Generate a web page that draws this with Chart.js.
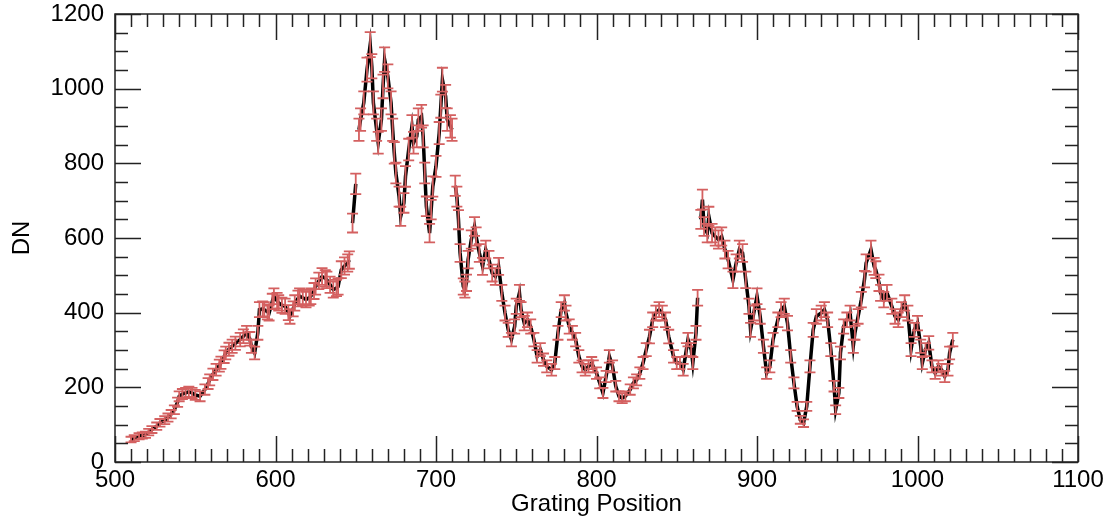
<!DOCTYPE html>
<html lang="en">
<head>
    <meta charset="UTF-8">
    <title>Grating Scan</title>
    <script src="https://cdn.jsdelivr.net/npm/chart.js@4.4.1/dist/chart.umd.min.js"></script>
    <style>
        body {
            margin: 0;
            background-color: white;
        }
    </style>
</head>
<body>
    <canvas id="scanChart" width="1109" height="522"></canvas>

    <script>
        // Grating position, DN and DN error (null = gap in the line)
        const gratingPos = [
            510, 512, 515, 517, 519, 521, 523, 526, 528, 531,
            533, 535, 537, 539, 540, 542, 544, 546, 548, 550,
            553, 556, 558, 559, 561, 563, 565, 566, 568, 569,
            571, 573, 575, 578, 580, 582, 584, 585, 587, 589,
            590, 592, 593, 595, 596, 598, 599, 601, 602, 604,
            606, 608, 609, 611, 612, 614, 615, 617, 619, 621,
            622, 624, 625, 627, 629, 631, 632, 634, 636, 638,
            639, 641, 643, 645, 646, 647, 648, 650, 651, 652,
            653, 655, 657, 659, 660, 661, 663, 664, 666, 667,
            668, 670, 672, 673, 674, 675, 677, 678, 680, 681,
            683, 685, 686, 688, 689, 691, 692, 693, 694, 696,
            697, 698, 700, 702, 703, 704, 706, 707, 709, 710,
            711, 712, 713, 714, 715, 717, 718, 719, 720, 722,
            724, 725, 727, 729, 731, 733, 735, 737, 739, 741,
            743, 745, 747, 749, 750, 752, 753, 755, 757, 759,
            761, 763, 765, 767, 769, 772, 774, 776, 778, 780,
            781, 783, 785, 787, 789, 791, 793, 795, 797, 798,
            800, 802, 804, 806, 808, 810, 812, 814, 816, 818,
            821, 823, 825, 827, 829, 831, 833, 835, 837, 839,
            841, 843, 845, 848, 850, 852, 854, 856, 857, 859,
            860, 862, 863, 864, 865, 866, 867, 869, 870, 872,
            874, 876, 878, 880, 882, 885, 887, 889, 891, 893,
            895, 896, 898, 900, 902, 904, 906, 908, 910, 913,
            915, 917, 919, 921, 923, 925, 927, 929, 931, 933,
            935, 937, 940, 942, 944, 946, 948, 949, 951, 952,
            954, 956, 958, 960, 961, 963, 965, 967, 968, 971,
            973, 974, 976, 977, 979, 981, 984, 986, 988, 990,
            992, 994, 996, 998, 1000, 1002, 1003, 1005, 1007, 1009,
            1011, 1013, 1015, 1017, 1019, 1020, 1022
        ];
        const dnValues = [
            60, 64, 69, 71, 73, 80, 87, 96, 105, 112,
            119, 128, 140, 160, 176, 182, 185, 188, 185, 180,
            176, 194, 210, 220, 235, 247, 258, 266, 282, 292,
            302, 310, 318, 328, 337, 346, 330, 310, 292, 346,
            408, 410, 408, 402, 399, 430, 444, 432, 426, 420,
            417, 400, 390, 410, 426, 438, 444, 440, 435, 440,
            444, 458, 470, 485, 497, 492, 488, 475, 462, 466,
            470, 515, 525, 533, 541, null, 640, 745, null, 890,
            917, 962, 1051, 1118, 1060, 962, 890, 855, 917, 1006,
            1078, 1033, 962, 890, 828, 774, 711, 658, 694, 765,
            837, 899, 855, 872, 917, 926, 872, 774, 685, 613,
            676, 738, 792, 881, 953, 1024, 979, 917, 899, 890,
            null, 740, 711, 649, 560, 470, 462, 480, 542, 596,
            631, 604, 560, 524, 569, 542, 506, 497, 524, 453,
            399, 354, 328, 363, 417, 453, 408, 372, 381, 363,
            328, 283, 301, 274, 256, 247, 265, 346, 408, 426,
            399, 363, 346, 328, 283, 256, 247, 256, 265, 256,
            238, 212, 185, 229, 283, 256, 203, 176, 171, 176,
            194, 212, 220, 238, 265, 301, 336, 381, 399, 408,
            399, 381, 336, 283, 265, 265, 247, 301, 328, 301,
            265, 346, 440, null, 650, 703, 631, 613, 658, 613,
            604, 596, 604, 569, 542, 488, 533, 569, 560, 488,
            417, 354, 399, 444, 390, 310, 238, 256, 328, 381,
            408, 417, 372, 283, 212, 149, 113, 104, 149, 256,
            354, 390, 399, 408, 381, 301, 203, 140, 185, 292,
            363, 381, 399, 310, 346, 390, 435, 490, 533, 569,
            524, 515, 480, 453, 435, 453, 417, 390, 381, 408,
            426, 399, 301, 354, 372, 310, 265, 301, 319, 256,
            238, 256, 247, 229, 247, 292, 328
        ];
        const dnErrors = [
            7.7, 8.0, 8.3, 8.4, 8.5, 8.9, 9.3, 9.8, 10.2, 10.6,
            10.9, 11.3, 11.8, 12.6, 13.3, 13.5, 13.6, 13.7, 13.6, 13.4,
            13.3, 13.9, 14.5, 14.8, 15.3, 15.7, 16.1, 16.3, 16.8, 17.1,
            17.4, 17.6, 17.8, 18.1, 18.4, 18.6, 18.2, 17.6, 17.1, 18.6,
            20.2, 20.2, 20.2, 20.0, 20.0, 20.7, 21.1, 20.8, 20.6, 20.5,
            20.4, 20.0, 19.7, 20.2, 20.6, 20.9, 21.1, 21.0, 20.9, 21.0,
            21.1, 21.4, 21.7, 22.0, 22.3, 22.2, 22.1, 21.8, 21.5, 21.6,
            21.7, 22.7, 22.9, 23.1, 23.3, null, 25.3, 27.3, null, 29.8,
            30.3, 31.0, 32.4, 33.4, 32.6, 31.0, 29.8, 29.2, 30.3, 31.7,
            32.8, 32.1, 31.0, 29.8, 28.8, 27.8, 26.7, 25.7, 26.3, 27.7,
            28.9, 30.0, 29.2, 29.5, 30.3, 30.4, 29.5, 27.8, 26.2, 24.8,
            26.0, 27.2, 28.1, 29.7, 30.9, 32.0, 31.3, 30.3, 30.0, 29.8,
            null, 27.2, 26.7, 25.5, 23.7, 21.7, 21.5, 21.9, 23.3, 24.4,
            25.1, 24.6, 23.7, 22.9, 23.9, 23.3, 22.5, 22.3, 22.9, 21.3,
            20.0, 18.8, 18.1, 19.1, 20.4, 21.3, 20.2, 19.3, 19.5, 19.1,
            18.1, 16.8, 17.3, 16.6, 16.0, 15.7, 16.3, 18.6, 20.2, 20.6,
            20.0, 19.1, 18.6, 18.1, 16.8, 16.0, 15.7, 16.0, 16.3, 16.0,
            15.4, 14.6, 13.6, 15.1, 16.8, 16.0, 14.2, 13.3, 13.1, 13.3,
            13.9, 14.6, 14.8, 15.4, 16.3, 17.3, 18.3, 19.5, 20.0, 20.2,
            20.0, 19.5, 18.3, 16.8, 16.3, 16.3, 15.7, 17.3, 18.1, 17.3,
            16.3, 18.6, 21.0, null, 25.5, 26.5, 25.1, 24.8, 25.7, 24.8,
            24.6, 24.4, 24.6, 23.9, 23.3, 22.1, 23.1, 23.9, 23.7, 22.1,
            20.4, 18.8, 20.0, 21.1, 19.7, 17.6, 15.4, 16.0, 18.1, 19.5,
            20.2, 20.4, 19.3, 16.8, 14.6, 12.2, 10.6, 10.2, 12.2, 16.0,
            18.8, 19.7, 20.0, 20.2, 19.5, 17.3, 14.2, 11.8, 13.6, 17.1,
            19.1, 19.5, 20.0, 17.6, 18.6, 19.7, 20.9, 22.1, 23.1, 23.9,
            22.9, 22.7, 21.9, 21.3, 20.9, 21.3, 20.4, 19.7, 19.5, 20.2,
            20.6, 20.0, 17.3, 18.8, 19.3, 17.6, 16.3, 17.3, 17.9, 16.0,
            15.4, 16.0, 15.7, 15.1, 15.7, 17.1, 18.1
        ];

        const xTickValues = [500, 600, 700, 800, 900, 1000, 1100];
        const yTickValues = [0, 200, 400, 600, 800, 1000, 1200];

        const fontFamily = '"Liberation Sans", Arial, Helvetica, sans-serif';

        // red error bars with caps, drawn on top of the black line
        const errorBarPlugin = {
            id: 'errorBars',
            afterDatasetsDraw(chart) {
                const ctx = chart.ctx;
                const xs = chart.scales.x;
                const ys = chart.scales.y;
                const area = chart.chartArea;
                ctx.save();
                ctx.beginPath();
                ctx.rect(area.left, area.top, area.right - area.left, area.bottom - area.top);
                ctx.clip();
                ctx.strokeStyle = 'rgb(212, 96, 96)';
                ctx.lineWidth = 1.8;
                for (let i = 0; i < gratingPos.length; i++) {
                    if (dnValues[i] === null) continue;
                    const px = xs.getPixelForValue(gratingPos[i]);
                    const top = ys.getPixelForValue(dnValues[i] + dnErrors[i]);
                    const bot = ys.getPixelForValue(dnValues[i] - dnErrors[i]);
                    ctx.beginPath();
                    ctx.moveTo(px, top);
                    ctx.lineTo(px, bot);
                    ctx.moveTo(px - 5.5, top);
                    ctx.lineTo(px + 5.5, top);
                    ctx.moveTo(px - 5.5, bot);
                    ctx.lineTo(px + 5.5, bot);
                    ctx.stroke();
                }
                ctx.restore();
            }
        };

        // box round the plot with inward ticks on all four sides
        const frameTicksPlugin = {
            id: 'frameTicks',
            afterDraw(chart) {
                const ctx = chart.ctx;
                const xs = chart.scales.x;
                const ys = chart.scales.y;
                const {left, right, top, bottom} = chart.chartArea;
                ctx.save();
                ctx.strokeStyle = '#222';
                ctx.lineWidth = 1.5;
                ctx.strokeRect(left, top, right - left, bottom - top);
                ctx.beginPath();
                for (let v = 500; v <= 1100; v += 10) {
                    const px = Math.round(xs.getPixelForValue(v)) + 0.5;
                    const len = v % 100 === 0 ? 26 : 13;
                    ctx.moveTo(px, bottom);
                    ctx.lineTo(px, bottom - len);
                    ctx.moveTo(px, top);
                    ctx.lineTo(px, top + len);
                }
                for (let v = 0; v <= 1200; v += 50) {
                    const py = Math.round(ys.getPixelForValue(v)) + 0.5;
                    const len = v % 200 === 0 ? 26 : 13;
                    ctx.moveTo(left, py);
                    ctx.lineTo(left + len, py);
                    ctx.moveTo(right, py);
                    ctx.lineTo(right - len, py);
                }
                ctx.stroke();
                ctx.restore();
            }
        };

        const points = gratingPos.map((x, i) => ({x: x, y: dnValues[i]}));

        new Chart(document.getElementById('scanChart'), {
            type: 'line',
            data: {
                datasets: [{
                    label: 'DN',
                    data: points,
                    borderColor: 'black',
                    borderWidth: 3.5,
                    pointRadius: 0,
                    tension: 0,
                    spanGaps: false
                }]
            },
            options: {
                responsive: false,
                animation: false,
                layout: {
                    padding: {top: 14, right: 31, left: 0, bottom: 0}
                },
                plugins: {
                    legend: {display: false},
                    tooltip: {enabled: false}
                },
                scales: {
                    x: {
                        type: 'linear',
                        min: 500,
                        max: 1100,
                        afterBuildTicks: (scale) => {
                            scale.ticks = xTickValues.map(v => ({value: v}));
                        },
                        afterFit: (scale) => {
                            scale.height = 60;
                            scale.paddingLeft = 0;
                            scale.paddingRight = 0;
                        },
                        grid: {display: false, drawTicks: false},
                        border: {display: false},
                        ticks: {
                            color: 'black',
                            padding: 4,
                            maxRotation: 0,
                            callback: (v) => String(v),
                            font: {family: fontFamily, size: 24}
                        },
                        title: {
                            display: true,
                            text: 'Grating Position',
                            color: 'black',
                            padding: {top: 0, bottom: 3},
                            font: {family: fontFamily, size: 24}
                        }
                    },
                    y: {
                        type: 'linear',
                        min: 0,
                        max: 1200,
                        afterBuildTicks: (scale) => {
                            scale.ticks = yTickValues.map(v => ({value: v}));
                        },
                        afterFit: (scale) => {
                            scale.width = 115;
                            scale.paddingTop = 0;
                            scale.paddingBottom = 0;
                        },
                        grid: {display: false, drawTicks: false},
                        border: {display: false},
                        ticks: {
                            color: 'black',
                            padding: 11,
                            callback: (v) => String(v),
                            font: {family: fontFamily, size: 24}
                        },
                        title: {
                            display: true,
                            text: 'DN',
                            color: 'black',
                            padding: {top: 8, bottom: 0},
                            font: {family: fontFamily, size: 24}
                        }
                    }
                }
            },
            plugins: [errorBarPlugin, frameTicksPlugin]
        });
    </script>
</body>
</html>
